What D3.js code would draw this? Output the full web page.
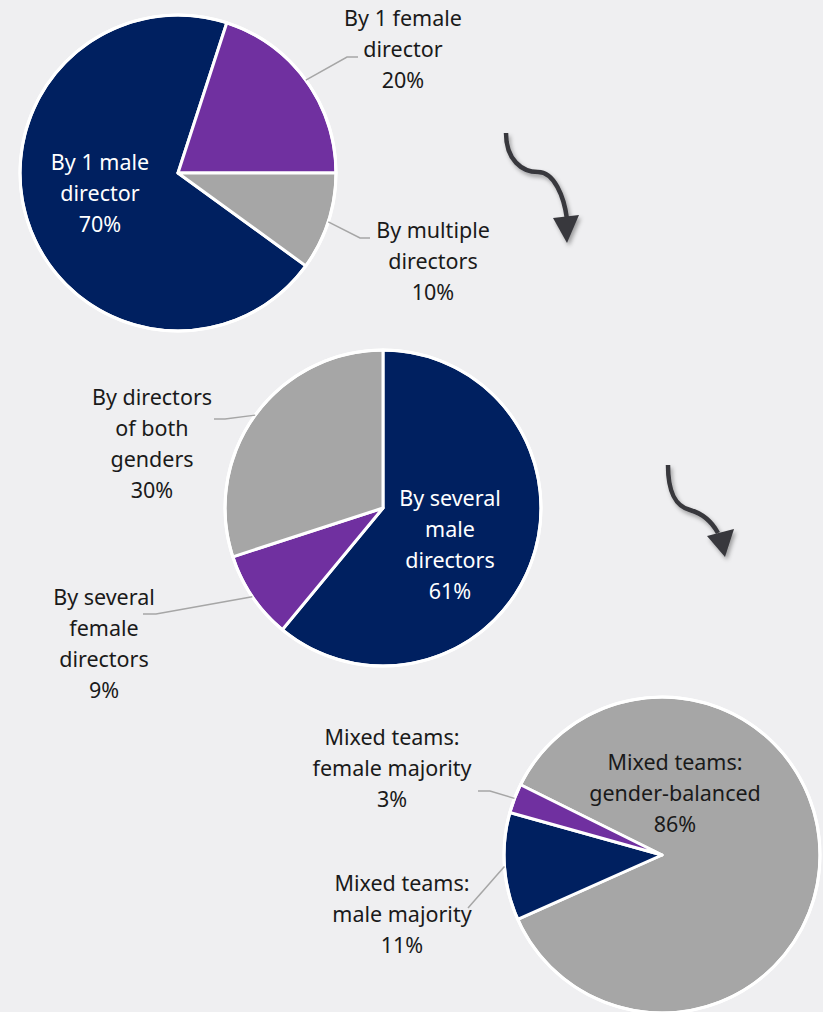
<!DOCTYPE html>
<html>
<head>
<meta charset="utf-8">
<script src="https://cdn.jsdelivr.net/npm/d3@7"></script>
<style>
  body { margin: 0; background: #efeff1; }
  svg text { font-family: "Noto Sans", "Open Sans", sans-serif; font-size: 21.5px; }
</style>
</head>
<body>
<div class="chart"></div>
<script>
// Data for the three pies
var pie1Labels = [["By 1 male", "director"], ["By 1 female", "director"], ["By multiple", "directors"]];
var pie1Values = [70, 20, 10];

var pie2Labels = [["By several", "male", "directors"], ["By several", "female", "directors"], ["By directors", "of both", "genders"]];
var pie2Values = [61, 9, 30];

var pie3Labels = [["Mixed teams:", "gender-balanced"], ["Mixed teams:", "male majority"], ["Mixed teams:", "female majority"]];
var pie3Values = [86, 11, 3];

var navy = "#002060", purple = "#7030a0", grey = "#a6a6a6";

// SVG area
var svgWidth = 823;
var svgHeight = 1012;
var radius = 158;

var svg = d3.select(".chart")
  .append("svg")
  .attr("width", svgWidth)
  .attr("height", svgHeight);

svg.append("rect")
  .attr("width", svgWidth)
  .attr("height", svgHeight)
  .attr("fill", "#efeff1");

var defs = svg.append("defs");
defs.append("filter")
  .attr("id", "shadow")
  .attr("x", "-50%").attr("y", "-50%").attr("width", "200%").attr("height", "200%")
  .append("feDropShadow")
  .attr("dx", 2).attr("dy", 3)
  .attr("stdDeviation", 2)
  .attr("flood-opacity", 0.35);

// layout per pie: centre, start angle (deg), colours and label placement per slice
var pies = [
  {
    values: pie1Values, labels: pie1Labels, cx: 178, cy: 173, start: 126,
    colors: [navy, purple, grey],
    place: [
      { inside: true, x: 100, y: 162, color: "#fff" },
      { x: 403, y: 18, elbow: [347, 57], end: 358 },
      { x: 433, y: 230, elbow: [360, 238], end: 370 }
    ]
  },
  {
    values: pie2Values, labels: pie2Labels, cx: 383, cy: 508, start: 0,
    colors: [navy, purple, grey],
    place: [
      { inside: true, x: 450, y: 498, color: "#fff" },
      { x: 104, y: 597, elbow: [156, 614], end: 143 },
      { x: 152, y: 397, elbow: [225, 419], end: 214 }
    ]
  },
  {
    values: pie3Values, labels: pie3Labels, cx: 662, cy: 855, start: 296.4,
    colors: [grey, navy, purple],
    place: [
      { inside: true, x: 675, y: 762, color: "#1a1a1a" },
      { x: 402, y: 883, elbow: [468, 908], end: 468 },
      { x: 392, y: 737, elbow: [490, 791], end: 478 }
    ]
  }
];

var lineHeight = 31;

pies.forEach(function(p) {
  var g = svg.append("g")
    .attr("transform", `translate(${p.cx}, ${p.cy})`);

  var pie = d3.pie()
    .sort(null)
    .startAngle(p.start * Math.PI / 180)
    .endAngle((p.start + 360) * Math.PI / 180);

  var arcs = pie(p.values);

  var arc = d3.arc().innerRadius(0).outerRadius(radius);
  var edge = d3.arc().innerRadius(radius).outerRadius(radius);

  g.selectAll("path.slice")
    .data(arcs)
    .enter().append("path")
    .attr("class", "slice")
    .attr("d", arc)
    .attr("fill", function(d, i) { return p.colors[i]; })
    .attr("stroke", "#fff")
    .attr("stroke-width", 3)
    .attr("stroke-linejoin", "round");

  g.append("circle")
    .attr("r", radius)
    .attr("fill", "none")
    .attr("stroke", "#fff")
    .attr("stroke-width", 3);

  arcs.forEach(function(d, i) {
    var pl = p.place[i];
    var lines = p.labels[i].concat([d.data + "%"]);

    if (!pl.inside) {
      var s = edge.centroid(d);
      var pts = [[s[0] + p.cx, s[1] + p.cy], pl.elbow, [pl.end, pl.elbow[1]]];
      svg.append("path")
        .attr("d", d3.line()(pts))
        .attr("fill", "none")
        .attr("stroke", "#a6a6a6")
        .attr("stroke-width", 1.5);
    }

    var t = svg.append("text")
      .attr("text-anchor", "middle")
      .attr("fill", pl.color || "#1a1a1a");
    lines.forEach(function(line, k) {
      t.append("tspan")
        .attr("x", pl.x)
        .attr("y", pl.y + k * lineHeight)
        .attr("dy", "0.35em")
        .text(line);
    });
  });
});

// curved arrows between the pies
var arrows = [
  { d: "M506,133 C506,160 522,172 538,172 C554,172 564,196 567,219", head: [[553, 218], [579, 215], [567, 243]] },
  { d: "M668,465 C668,492 675,506 690,510 C704,514 712,522 718,533", head: [[707, 536], [734, 529], [725, 557]] }
];

arrows.forEach(function(a) {
  var ag = svg.append("g").attr("filter", "url(#shadow)");
  ag.append("path")
    .attr("d", a.d)
    .attr("fill", "none")
    .attr("stroke", "#38383d")
    .attr("stroke-width", 4.5);
  ag.append("path")
    .attr("d", d3.line()(a.head) + "Z")
    .attr("fill", "#38383d");
});
</script>
</body>
</html>
